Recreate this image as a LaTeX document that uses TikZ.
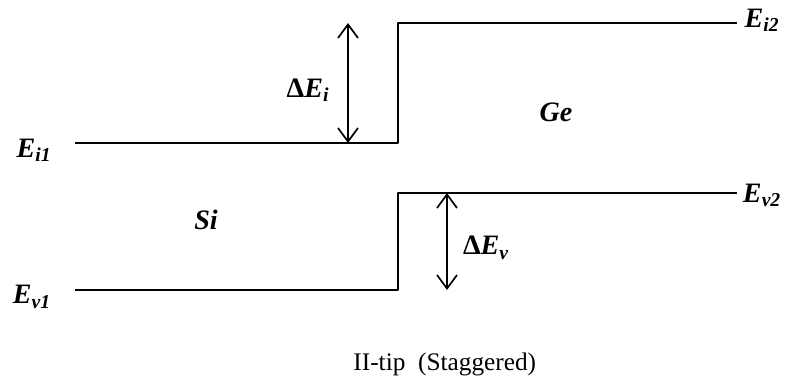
\documentclass[tikz,border=0pt]{standalone}
\usepackage{fontspec}
\setmainfont{Liberation Serif}
\usepackage{tikz}
\usetikzlibrary{arrows.meta}

\newcommand{\lev}[1]{\textit{E}\textsubscript{\textit{#1}}}

\begin{document}
\begin{tikzpicture}
  \useasboundingbox (0,0) rectangle (19.725,9.7);
  \tikzset{
    band/.style={line width=1.5pt, line join=round},
    gap/.style={line width=1.2pt, {Straight Barb[length=3.4mm,width=5mm,line width=1.2pt]}-{Straight Barb[length=3.4mm,width=5mm,line width=1.2pt]}},
    lbl/.style={font=\fontsize{20}{23}\selectfont\bfseries, inner sep=1pt}
  }

  % level labels
  \node[lbl] (Ei1) at ( 0.85, 5.95) {\lev{i1}};
  \node[lbl] (Ei2) at (19.05, 9.20) {\lev{i2}};
  \node[lbl] (Ev1) at ( 0.80, 2.28) {\lev{v1}};
  \node[lbl] (Ev2) at (19.05, 4.82) {\lev{v2}};

  % ends and corners of the band edges
  \coordinate (i1) at ( 1.875, 6.125);
  \coordinate (ci) at ( 9.95,  6.125);
  \coordinate (i2) at (18.425, 9.125);
  \coordinate (v1) at ( 1.875, 2.45);
  \coordinate (cv) at ( 9.95,  2.45);
  \coordinate (v2) at (18.425, 4.875);

  \draw[band] (i1) -- (ci) |- (i2);
  \draw[band] (v1) -- (cv) |- (v2);

  % offsets
  \coordinate (diB) at ( 8.70, 6.125);
  \coordinate (diT) at ( 8.70, 9.125);
  \coordinate (dvB) at (11.175, 2.45);
  \coordinate (dvT) at (11.175, 4.875);

  \draw[gap] (diB) -- (diT);
  \draw[gap] (dvB) -- (dvT);

  \node[lbl] (dEi) at ( 7.70, 7.45) {Δ\lev{i}};
  \node[lbl] (dEv) at (12.15, 3.50) {Δ\lev{v}};

  % materials
  \node[lbl] (Si) at ( 5.15, 4.20) {\textit{Si}};
  \node[lbl] (Ge) at (13.90, 6.90) {\textit{Ge}};

  \node[font=\fontsize{18}{21}\selectfont, inner sep=1pt] (title) at (11.12, 0.58) {II-tip\ \ (Staggered)};
\end{tikzpicture}
\end{document}
